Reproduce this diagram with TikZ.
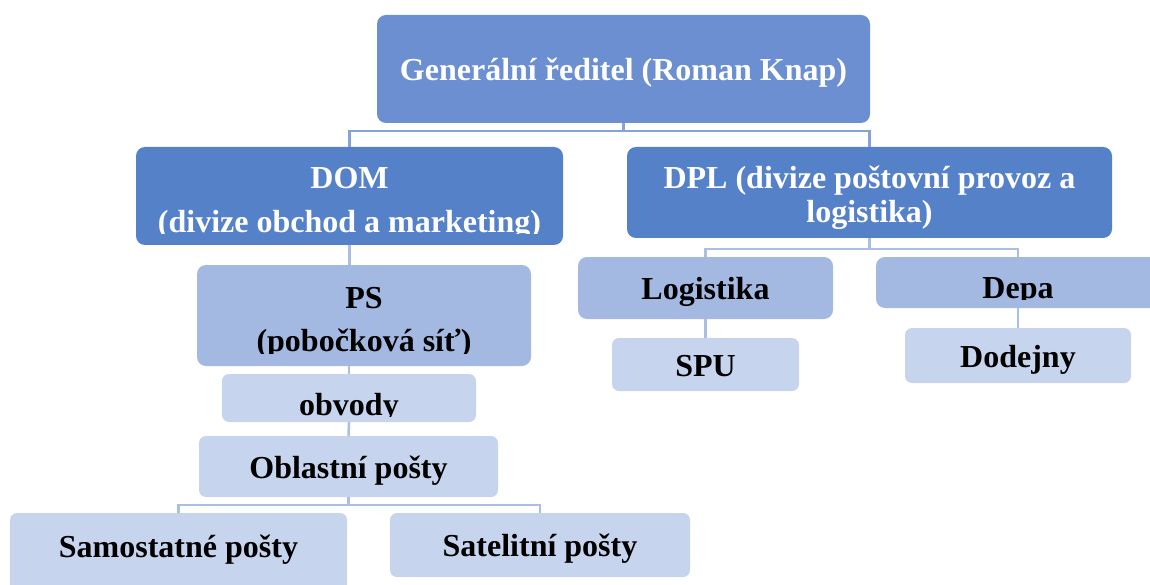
\documentclass[tikz,border=0pt]{standalone}
\usepackage{fontspec}
\setmainfont{Liberation Serif}
\definecolor{chiefBlue}{HTML}{6B8FD1}
\definecolor{divBlue}{HTML}{5581C9}
\definecolor{unitBlue}{HTML}{A3B9E1}
\definecolor{subBlue}{HTML}{C7D4EE}
\definecolor{linkBlue}{HTML}{86A3D9}
\definecolor{linkPale}{HTML}{ABBEE3}
\tikzset{
  orgbox/.style={rectangle, rounded corners=9pt, fill=#1, inner sep=0pt, align=center, font=\bfseries\fontsize{32}{36}\selectfont, text height=23pt, text depth=0pt},
  topbox/.style={orgbox=chiefBlue, text=white},
  divbox/.style={orgbox=divBlue, text=white},
  unitbox/.style={orgbox=unitBlue, text=black},
  subbox/.style={orgbox=subBlue, text=black, rounded corners=7pt},
  % text cut off below a given depth, lines placed by baseline
  cutoff/.style 2 args={path picture={\clip ([yshift=-#1pt]path picture bounding box.north west) rectangle (path picture bounding box.north east); #2}},
  linkline/.style={draw=#1, line width=2.5pt},
}
\newcommand{\boxline}[2]{\node[anchor=base, minimum width=0pt, minimum height=0pt] at ([yshift=-#1pt]path picture bounding box.north) {#2};}
\begin{document}
\begin{tikzpicture}[x=1pt,y=-1pt]
  \useasboundingbox (0,0) rectangle (1150,585);

  \node[topbox, minimum width=493pt, minimum height=108pt] (root) at (623.5,69) {Generální ředitel (Roman Knap)};

  \node[divbox, minimum width=427pt, minimum height=98pt, cutoff={87}{\boxline{42}{DOM}\boxline{86}{(divize obchod a marketing)}}] (dom) at (349.5,196) {};
  \node[divbox, minimum width=485pt, minimum height=91pt, cutoff={91}{\boxline{42}{DPL (divize poštovní provoz a}\boxline{76}{logistika)}}] (dpl) at (869.5,192.5) {};

  \node[unitbox, minimum width=334pt, minimum height=101pt, cutoff={88}{\boxline{43}{PS}\boxline{86}{(pobočková síť)}}] (ps) at (364,315.5) {};
  \node[unitbox, minimum width=255pt, minimum height=62pt] (logi) at (705.5,288) {Logistika};
  \node[unitbox, minimum width=284pt, minimum height=51pt, cutoff={42.5}{\boxline{41.5}{Depa}}] (depa) at (1018,282.5) {};

  \node[subbox, minimum width=187pt, minimum height=53pt] (spu) at (705.5,364.5) {SPU};
  \node[subbox, minimum width=226pt, minimum height=55pt] (dodejny) at (1018,355.5) {Dodejny};
  \node[subbox, minimum width=254pt, minimum height=48pt, cutoff={42}{\boxline{41}{obvody}}] (obvody) at (349,398) {};
  \node[subbox, minimum width=299pt, minimum height=61pt] (oblast) at (348.5,466.5) {Oblastní pošty};
  \node[subbox, minimum width=337pt, minimum height=79pt, text depth=13pt] (samost) at (178.5,552.5) {Samostatné pošty};
  \node[subbox, minimum width=300pt, minimum height=64pt] (satel) at (540,545) {Satelitní pošty};

  \draw[linkline=linkBlue] (root.south) -- ++(0,8) -| (dom.north);
  \draw[linkline=linkBlue] (root.south) -- ++(0,8) -| (dpl.north);
  \draw[linkline=linkPale] (dpl.south) -- ++(0,11) -| (logi.north);
  \draw[linkline=linkPale] (dpl.south) -- ++(0,11) -| (depa.north);
  \draw[linkline=linkPale] (logi.south) -- (spu.north);
  \draw[linkline=linkPale] (depa.south) -- (dodejny.north);
  \draw[linkline=linkPale] (dom.south) -- (dom.south |- ps.north);
  \draw[linkline=linkPale] (obvody.north |- ps.south) -- (obvody.north);
  \draw[linkline=linkPale] (obvody.south) -- (oblast.north);
  \draw[linkline=linkPale] (oblast.south) -- ++(0,8) -| (samost.north);
  \draw[linkline=linkPale] (oblast.south) -- ++(0,8) -| (satel.north);
\end{tikzpicture}
\end{document}
